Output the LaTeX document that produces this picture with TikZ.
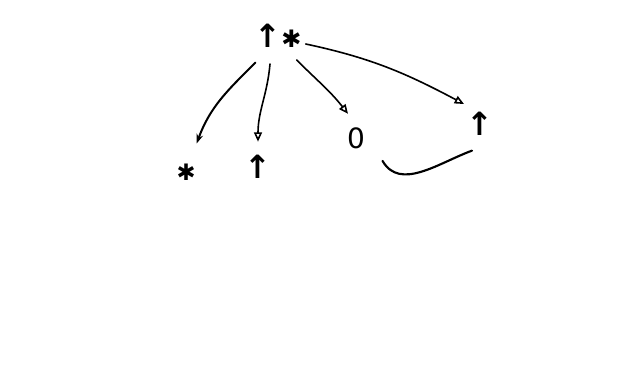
\documentclass[tikz,border=0pt]{standalone}
\usepackage{fontspec}
\newfontfamily\symfont{DejaVu Sans}
\usetikzlibrary{arrows.meta,positioning}
\begin{document}
\begin{tikzpicture}[x=0.75pt,y=-0.75pt,line cap=round,
    sym/.style={font=\symfont\bfseries\fontsize{24}{24}\selectfont,inner sep=1pt},
    link/.style={line width=1.2pt,-{Triangle[open,length=7pt,width=6pt]}},
    fatlink/.style={line width=1.5pt,-{Stealth[length=7pt,width=5pt]}}]
    \useasboundingbox (0,0) rectangle (633,383);
    \node[sym] (root) at (278,36) {↑{\fontsize{18}{18}\selectfont✱}};
    \node[sym,font=\symfont\bfseries\fontsize{17}{17}\selectfont] (star) at (186,172) {✱};
    \node[sym] (up) at (258,167) {↑};
    \node[sym,font=\symfont\fontsize{21}{21}\selectfont] (zero) at (356,138) {0};
    \node[sym] (upr) at (480,124) {↑};
    \draw[fatlink] ([xshift=-17pt,yshift=-10pt]root.south) to[out=-135,in=70] ([xshift=8pt,yshift=14pt]star.north);
    \draw[link] ([xshift=-6pt,yshift=-11pt]root.south) to[out=-95,in=90] ([yshift=9pt]up.north);
    \draw[link] ([xshift=14pt,yshift=-8pt]root.south) to[out=-45,in=128] ([xshift=-6pt,yshift=9pt]zero.north);
    \draw[link] ([xshift=2pt,yshift=-6pt]root.east) to[out=-12,in=152] ([xshift=-12pt,yshift=5pt]upr.north);
    \draw[line width=1.6pt] ([xshift=12pt,yshift=-8pt]zero.south east) to[out=-60,in=200] ([xshift=-6pt,yshift=-10pt]upr.south);
\end{tikzpicture}
\end{document}
